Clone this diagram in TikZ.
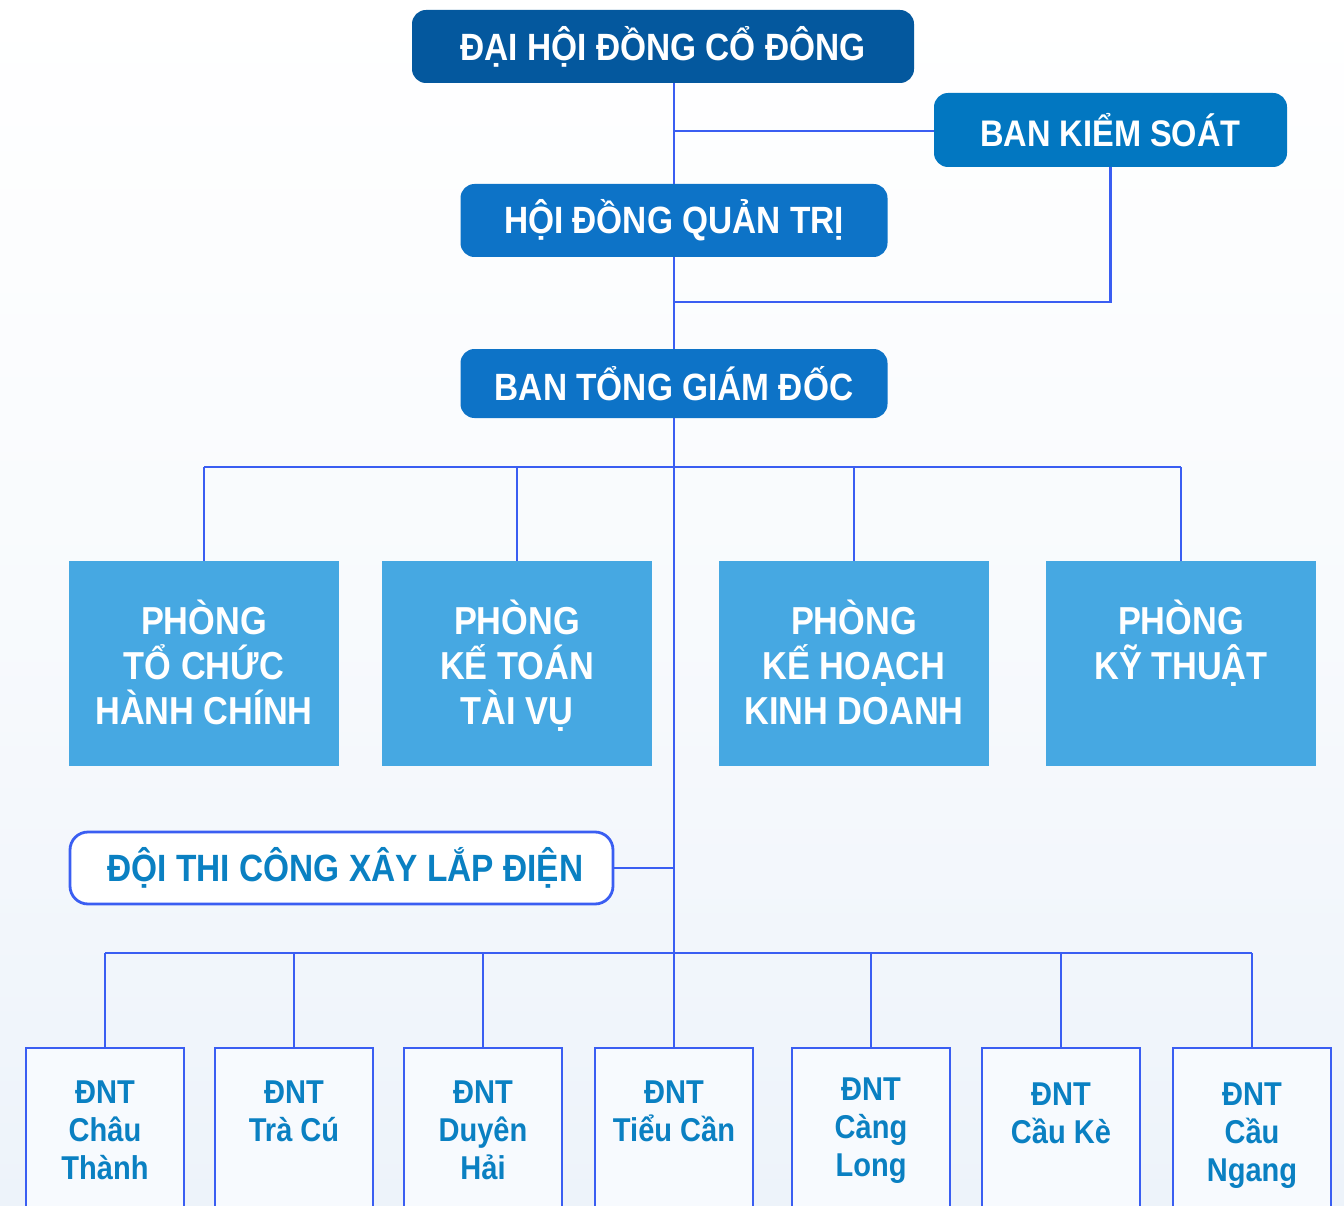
\documentclass[tikz,border=0pt]{standalone}
\usepackage{fontspec}
\setmainfont{Liberation Sans}[FakeStretch=0.88]
\definecolor{cdark}{HTML}{04589E}
\definecolor{cbks}{HTML}{0277C1}
\definecolor{cmid}{HTML}{0D73C7}
\definecolor{cphong}{HTML}{46A8E2}
\definecolor{cline}{HTML}{3A5EF2}
\definecolor{ctext}{HTML}{0A80C2}
\definecolor{cbg}{HTML}{EDF3FA}
\definecolor{cdnt}{HTML}{F7FAFE}
\begin{document}
\begin{tikzpicture}[x=1pt,y=-1pt,
  topbox/.style={rounded corners=14pt, minimum height=73pt, text=white, inner sep=0pt,
    font=\bfseries\fontsize{38}{44}\selectfont},
  pbox/.style={fill=cphong, minimum width=270pt, minimum height=205pt, inner sep=0pt},
  ptext/.style={text=white, align=center, anchor=north, inner sep=0pt,
    font=\bfseries\fontsize{39}{45}\selectfont},
  dbox/.style={draw=cline, line width=2.8pt, fill=cdnt, minimum width=158pt, minimum height=212pt, inner sep=0pt},
  dtext/.style={text=ctext, align=center, anchor=north, inner sep=0pt,
    font=\bfseries\fontsize{33}{38}\selectfont},
  conn/.style={draw=cline, line width=2.8pt}]
\shade[top color=white, bottom color=cbg, middle color=white!60!cbg] (0,0) rectangle (1344,1206);
\useasboundingbox (0,0) rectangle (1344,1206);
% top boxes
\node[topbox, fill=cdark, minimum width=502pt] (dh) at (663,46.5) {ĐẠI HỘI ĐỒNG CỔ ĐÔNG};
\node[topbox, fill=cbks, minimum width=353pt, minimum height=74pt, font=\bfseries\fontsize{37}{44}\selectfont] (bks) at (1110.5,130) {BAN KIỂM SOÁT};
\node[topbox, fill=cmid, minimum width=427pt] (hd) at (674,220.5) {HỘI ĐỒNG QUẢN TRỊ};
\node[topbox, fill=cmid, minimum width=427pt, minimum height=69pt] (bt) at (674,383.5) {BAN TỔNG GIÁM ĐỐC};
% phong
\node[pbox] (p1) at (204,663.5) {};
\node[pbox] (p2) at (517,663.5) {};
\node[pbox] (p3) at (854,663.5) {};
\node[pbox] (p4) at (1181,663.5) {};
\node[ptext] (p1t) at (204,600) {PHÒNG\\TỔ CHỨC\\HÀNH CHÍNH};
\node[ptext] (p2t) at (517,600) {PHÒNG\\KẾ TOÁN\\TÀI VỤ};
\node[ptext] (p3t) at (854,600) {PHÒNG\\KẾ HOẠCH\\KINH DOANH};
\node[ptext] (p4t) at (1181,600) {PHÒNG\\KỸ THUẬT};
% doi thi cong
\node[draw=cline, line width=2.8pt, fill=white, rounded corners=18pt, minimum width=543pt, minimum height=72pt,
  text=ctext, font=\bfseries\fontsize{38}{44}\selectfont, inner sep=0pt] (dtc) at (341.5,868) {\hspace*{8pt}ĐỘI THI CÔNG XÂY LẮP ĐIỆN};
% DNT boxes
\node[dbox] (d1) at (105,1154) {};
\node[dbox] (d2) at (294,1154) {};
\node[dbox] (d3) at (483,1154) {};
\node[dbox] (d4) at (674,1154) {};
\node[dbox] (d5) at (871,1154) {};
\node[dbox] (d6) at (1061,1154) {};
\node[dbox] (d7) at (1252,1154) {};
\node[dtext] (d1t) at (105,1081) {ĐNT\\Châu\\Thành};
\node[dtext] (d2t) at (294,1081) {ĐNT\\Trà Cú};
\node[dtext] (d3t) at (483,1081) {ĐNT\\Duyên\\Hải};
\node[dtext] (d4t) at (674,1081) {ĐNT\\Tiểu Cần};
\node[dtext] (d5t) at (871,1078) {ĐNT\\Càng\\Long};
\node[dtext] (d6t) at (1061,1083) {ĐNT\\Cầu Kè};
\node[dtext] (d7t) at (1252,1083) {ĐNT\\Cầu\\Ngang};
% connectors
\coordinate (j1) at (674,131);
\coordinate (j2) at (674,302);
\coordinate (bus) at (674,467);
\coordinate (bus2) at (674,953);
\draw[conn] (dh.south -| hd.north) -- (hd.north);
\draw[conn] (j1) -- (bks.west |- j1);
\draw[conn] (hd.south) -- (bt.north);
\draw[conn] (bks.south) |- (j2);
\draw[conn] (bt.south) -- (d4.north);
\draw[conn] (p1.north |- bus) -- (p4.north |- bus);
\foreach \p in {p1,p2,p3,p4} \draw[conn] (\p.north |- bus) -- (\p.north);
\draw[conn] (dtc.east) -- (dtc.east -| bus);
\draw[conn] (d1.north |- bus2) -- (d7.north |- bus2);
\foreach \d in {d1,d2,d3,d5,d6,d7} \draw[conn] (\d.north |- bus2) -- (\d.north);
\end{tikzpicture}
\end{document}
